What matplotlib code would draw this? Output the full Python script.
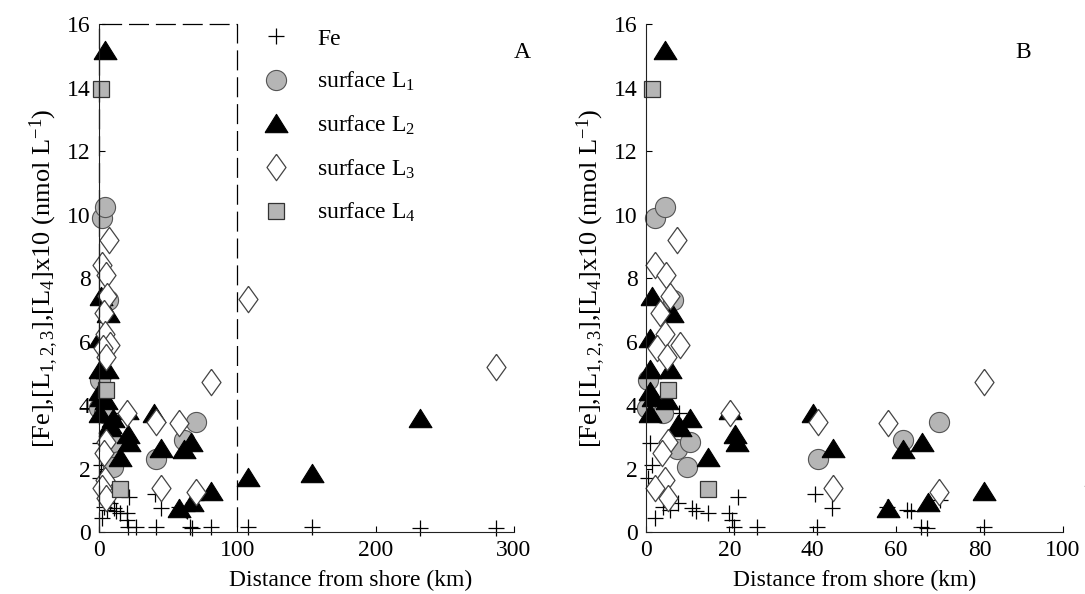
import matplotlib
matplotlib.use('Agg')
import matplotlib.pyplot as plt
import numpy as np

plt.rcParams['font.family'] = ['Liberation Serif', 'DejaVu Serif']
plt.rcParams['mathtext.fontset'] = 'stix'
plt.rcParams['mathtext.default'] = 'regular'

# Distance from shore (km) and concentrations ([Fe], [L1-3], [L4] x10, nmol/L)
fe_x = [0.5, 1.0, 1.4, 2.2, 4.0, 5.8, 7.7, 8.0, 11.0, 12.0, 14.9, 20.0, 20.6, 21.0,
        22.0, 26.6, 40.5, 41.0, 44.6, 57.8, 62.6, 63.5, 66.0, 67.4, 70.5, 81.0,
        108, 154, 232, 287]
fe_y = [1.7, 2.8, 2.1, 0.44, 0.8, 0.7, 0.9, 3.75, 0.75, 0.65, 0.6, 0.6, 0.37, 0.16,
        1.1, 0.16, 1.2, 0.16, 0.75, 0.8, 0.7, 0.65, 0.16, 0.12, 1.0, 0.16,
        0.15, 0.15, 0.13, 0.13]

l1_x = [2.2, 4.6, 6.5, 0.4, 0.3, 4.0, 7.4, 10.5, 9.8, 41.3, 61.7, 70.3]
l1_y = [9.9, 10.25, 7.3, 4.8, 3.9, 3.75, 2.6, 2.85, 2.05, 2.3, 2.9, 3.45]

l2_x = [4.6, 1.4, 6.2, 1.0, 1.0, 5.8, 1.0, 1.7, 5.0, 1.0, 7.7, 10.5, 8.2, 20.1,
        21.3, 21.8, 14.9, 40.0, 44.8, 61.6, 66.2, 58.0, 67.6, 81.0, 108, 154, 232]
l2_y = [15.2, 7.45, 6.9, 6.1, 5.15, 5.15, 4.45, 4.25, 4.15, 3.75, 3.4, 3.6, 3.3, 3.85,
        3.1, 2.85, 2.35, 3.75, 2.65, 2.6, 2.85, 0.75, 0.95, 1.3, 1.73, 1.86, 3.6]

l3_x = [7.5, 2.2, 4.8, 5.8, 3.4, 4.6, 8.2, 2.6, 5.0, 5.3, 3.8, 4.6, 2.2, 5.3,
        20.1, 41.3, 44.8, 58.0, 70.3, 81.0, 108, 287]
l3_y = [9.2, 8.4, 8.1, 7.45, 6.9, 6.25, 5.9, 5.8, 5.5, 2.85, 2.5, 1.65, 1.4, 1.07,
        3.75, 3.45, 1.4, 3.43, 1.26, 4.72, 7.34, 5.2]

l4_x = [1.4, 5.3, 14.9]
l4_y = [13.95, 4.47, 1.35]

series_labels = ['Fe', 'surface L$_1$', 'surface L$_2$', 'surface L$_3$', 'surface L$_4$']

# wide triangle and tall diamond marker shapes
tri = [(-1, -0.8), (1, -0.8), (0, 0.8), (-1, -0.8)]
dia = [(0, 1), (0.72, 0), (0, -1), (-0.72, 0), (0, 1)]
gray = '#b5b5b5'
FS = 17


def draw_panel(ax, xmax, xticks, xlabel_pos):
    ax.plot(fe_x, fe_y, '+', ms=11, mew=0.9, color='black', label=series_labels[0],
            linestyle='none', clip_on=False)
    ax.plot(l1_x, l1_y, 'o', ms=14.5, mfc=gray, mec='#555555', mew=0.8,
            label=series_labels[1], linestyle='none', clip_on=False)
    ax.plot(l2_x, l2_y, marker=tri, ms=16.5, mfc='black', mec='black', mew=0.8,
            label=series_labels[2], linestyle='none', clip_on=False)
    ax.plot(l3_x, l3_y, marker=dia, ms=19, mfc='white', mec='#444444', mew=0.9,
            label=series_labels[3], linestyle='none', clip_on=False)
    ax.plot(l4_x, l4_y, 's', ms=11, mfc=gray, mec='#333333', mew=0.9,
            label=series_labels[4], linestyle='none', clip_on=False)

    ax.set_xlim(0, xmax)
    ax.set_ylim(0, 16)
    ax.set_xticks(xticks)
    ax.set_yticks(np.arange(0, 17, 2))
    for side in ['top', 'right']:
        ax.spines[side].set_visible(False)
    for side in ['left', 'bottom']:
        ax.spines[side].set_linewidth(0.8)
        ax.spines[side].set_color('#222222')
    ax.tick_params(direction='in', length=4, width=0.8, labelsize=FS, pad=6)
    ax.set_xlabel('Distance from shore (km)', fontsize=FS, labelpad=1)
    ax.xaxis.set_label_coords(xlabel_pos, -0.075)
    ax.set_ylabel(r'[Fe],[L$_{1,2,3}$],[L$_4$]x10 (nmol L$^{-1}$)', fontsize=19,
                  labelpad=4)


fig = plt.figure(figsize=(10.85, 5.94), dpi=100)
ax_a = fig.add_axes([0.0912, 0.1044, 0.3825, 0.855])
ax_b = fig.add_axes([0.5954, 0.1044, 0.3843, 0.855])

draw_panel(ax_a, 300, [0, 100, 200, 300], 0.607)
draw_panel(ax_b, 100, [0, 20, 40, 60, 80, 100], 0.5)

# dashed box marking the range shown in panel B
ax_a.plot([0, 0, 100, 100], [0, 16, 16, 0], color='black', lw=0.9,
          linestyle=(0, (16, 5.5)), clip_on=False)

ax_a.legend(loc='upper left', bbox_to_anchor=(0.37, 0.992), frameon=False,
            fontsize=FS, borderpad=0, borderaxespad=0, labelspacing=0.86,
            handletextpad=0.75, handlelength=2.0)

ax_a.text(1.02, 0.945, 'A', transform=ax_a.transAxes, fontsize=FS,
          ha='center', va='center')
ax_b.text(0.904, 0.945, 'B', transform=ax_b.transAxes, fontsize=FS,
          ha='center', va='center')

fig.savefig('out.png', dpi=100)
